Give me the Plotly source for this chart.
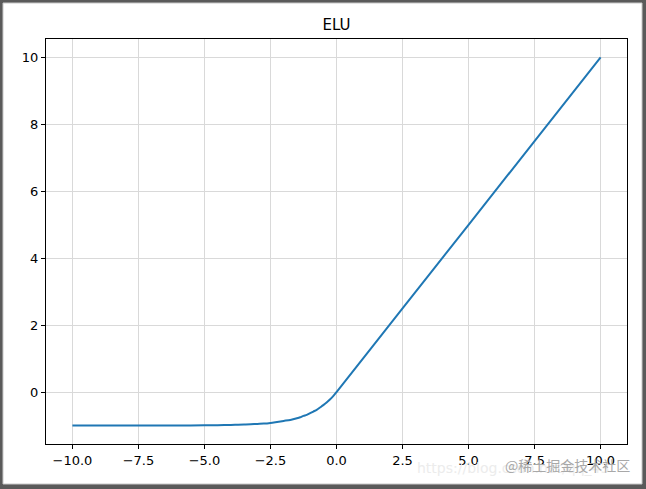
import plotly.graph_objects as go

# Values (ELU curve)
x_vals = [-10, -9, -8, -7, -6, -5, -4.5, -4, -3.5, -3, -2.75, -2.5, -2.25, -2, -1.75,
          -1.5, -1.375, -1.25, -1.125, -1, -0.875, -0.75, -0.625, -0.5, -0.375, -0.25,
          -0.125, 0, 2.5, 5, 7.5, 10]
y_vals = [-1.0, -1.0, -1.0, -1.0, -1.0, -0.99, -0.99, -0.98, -0.97, -0.95, -0.94,
          -0.92, -0.89, -0.86, -0.83, -0.78, -0.75, -0.71, -0.68, -0.63, -0.58,
          -0.53, -0.46, -0.39, -0.31, -0.22, -0.12, 0.0, 2.5, 5.0, 7.5, 10.0]
x_ticks = [-10, -7.5, -5, -2.5, 0, 2.5, 5, 7.5, 10]
y_ticks = [0, 2, 4, 6, 8, 10]
title = "ELU"

W, H = 646, 489
L, R, T, B = 46, 19, 39, 45
pw, ph = W - L - R, H - T - B

def px(x):
    return (x - L) / pw

def py(y):
    return (H - B - y) / ph

fig = go.Figure()
fig.add_trace(go.Scatter(x=x_vals, y=y_vals, mode="lines",
                         line=dict(color="#1f77b4", width=2, shape="spline", smoothing=0.8),
                         showlegend=False, hoverinfo="skip"))

axis_common = dict(showline=True, linecolor="black", linewidth=1, mirror=True,
                   ticks="outside", ticklen=4, tickcolor="black", tickwidth=1,
                   showgrid=True, gridcolor="#d9d9d9", gridwidth=1, zeroline=False,
                   tickfont=dict(family="DejaVu Sans", size=13, color="black"))

fig.update_xaxes(range=[-11, 11], tickvals=x_ticks, tickformat=".1f", **axis_common)
fig.update_yaxes(range=[-1.55, 10.55], tickvals=y_ticks, tickformat="d", **axis_common)

shapes = [
    dict(type="rect", xref="paper", yref="paper", layer="below",
         x0=px(3), x1=px(642), y0=py(484), y1=py(3),
         fillcolor="white", line=dict(color="#c8c8c8", width=1)),
]

fig.update_layout(
    width=W, height=H,
    margin=dict(l=L, r=R, t=T, b=B),
    paper_bgcolor="#5a5a5a",
    plot_bgcolor="rgba(0,0,0,0)",
    title=dict(text=title, x=0.5, xref="paper",
               y=1 - 24.5 / H, yref="container", yanchor="middle", xanchor="center",
               font=dict(family="DejaVu Sans", size=15, color="black")),
    shapes=shapes,
    annotations=[
        dict(text="https://blog.csdn.net/qq_43", xref="paper", yref="paper",
             x=px(415), y=py(468), xanchor="left", yanchor="middle", showarrow=False,
             font=dict(family="DejaVu Sans", size=14, color="#ececec")),
        dict(text="@稀土掘金技术社区", xref="paper", yref="paper",
             x=px(632), y=py(465), xanchor="right", yanchor="middle", showarrow=False,
             font=dict(family="Noto Sans CJK SC", size=14, color="#a8a8a8")),
    ],
)

fig.write_html("out.html", config={"displayModeBar": False},
               post_script="document.body.style.margin='0';document.body.style.overflow='hidden';")
